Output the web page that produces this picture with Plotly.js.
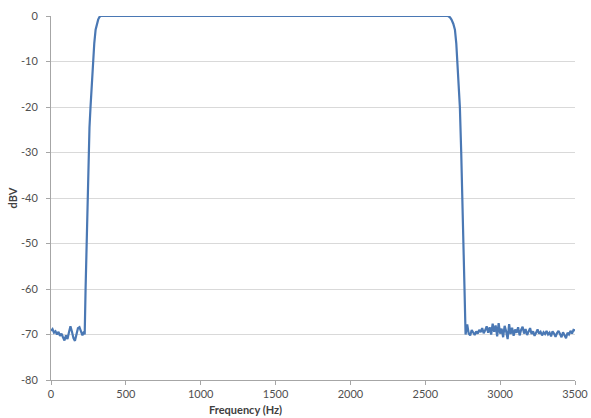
<!DOCTYPE html>
<html>
<head>
<meta charset="utf-8">
<script src="https://cdn.plot.ly/plotly-3.0.1.min.js"></script>
<style>html,body{margin:0;padding:0;background:#fff;}#chart{width:591px;height:418px;}</style>
</head>
<body>
<div id="chart"></div>
<script>
// Frequency (Hz)
const frequencyHz = [
  0, 10, 20, 30, 40, 50, 60, 70, 80, 90, 100, 110, 120, 130, 140, 150, 160, 170, 180, 190, 200, 210, 220, 225,
  231, 238, 244, 251, 257, 264, 272, 280, 289, 298, 307, 315, 323, 331,
  500, 1000, 1500, 2000, 2500, 2653,
  2665, 2675, 2687, 2698, 2707, 2715, 2723, 2731, 2740, 2749, 2755, 2762, 2769,
  2780, 2790, 2800, 2810, 2820, 2830, 2840, 2850, 2860, 2870, 2880, 2890, 2900, 2910, 2920, 2930, 2940, 2950,
  2960, 2970, 2980, 2990, 3000, 3010, 3020, 3030, 3040, 3050, 3060, 3070, 3080, 3090, 3100, 3110, 3120, 3130,
  3140, 3150, 3160, 3170, 3180, 3190, 3200, 3210, 3220, 3230, 3240, 3250, 3260, 3270, 3280, 3290, 3300, 3310,
  3320, 3330, 3340, 3350, 3360, 3370, 3380, 3390, 3400, 3410, 3420, 3430, 3440, 3450, 3460, 3470, 3480, 3490, 3500
];
// Magnitude (dBV)
const magnitudeDbV = [
  -69.2, -68.8, -69.6, -69.3, -70.0, -69.4, -70.3, -69.8, -70.6, -71.3, -70.2, -71.0, -69.5, -68.2, -69.4, -70.8, -71.4, -69.8, -68.6, -68.4, -69.6, -70.2, -69.4, -70.0,
  -60, -50, -40, -30, -24.5, -20, -14.5, -10, -6, -3, -1.6, -0.8, -0.25, 0,
  0, 0, 0, 0, 0, 0,
  -0.3, -0.8, -1.7, -3, -6, -10, -15, -20, -30, -40, -50, -60, -70,
  -67.8, -69.8, -70.2, -69.0, -69.6, -70.1, -69.3, -69.8, -69.0, -69.5, -68.6, -69.7, -69.1, -68.2, -69.6, -68.4, -70.0, -67.6,
  -69.4, -68.0, -70.4, -67.5, -69.8, -68.7, -70.6, -68.1, -69.3, -71.0, -67.7, -69.9, -68.5, -70.3, -68.9, -69.6, -68.4, -70.2,
  -69.0, -68.3, -69.8, -68.8, -70.1, -69.2, -68.6, -69.9, -69.3, -70.3, -69.6, -68.9, -69.8, -69.4, -70.2, -69.5, -69.9, -69.2,
  -70.0, -69.6, -70.4, -69.3, -69.8, -70.5, -69.7, -69.2, -69.9, -70.6, -69.5, -70.1, -70.8, -69.6, -70.0, -69.2, -69.8, -69.0, -69.1
];
const xTickValues = [0, 500, 1000, 1500, 2000, 2500, 3000, 3500];
const yTickValues = [0, -10, -20, -30, -40, -50, -60, -70, -80];
const xAxisTitle = 'Frequency (Hz)';
const yAxisTitle = 'dBV';

const FONT = 'Lato, "Open Sans", "DejaVu Sans", sans-serif';

Plotly.newPlot('chart', [{
  x: frequencyHz,
  y: magnitudeDbV,
  type: 'scatter',
  mode: 'lines',
  line: {color: '#4a78b4', width: 2.2},
  hoverinfo: 'skip'
}], {
  width: 591, height: 418,
  margin: {l: 51, r: 16, t: 16, b: 38},
  paper_bgcolor: '#ffffff',
  plot_bgcolor: '#ffffff',
  showlegend: false,
  font: {family: FONT, size: 11, color: '#505050'},
  xaxis: {
    range: [0, 3500],
    tickvals: xTickValues,
    ticktext: xTickValues.map(String),
    showgrid: false,
    zeroline: false,
    showline: true,
    linecolor: '#a6a6a6',
    linewidth: 1,
    ticks: 'outside',
    ticklen: 4,
    tickcolor: '#a6a6a6',
    tickfont: {family: FONT, size: 11, color: '#505050'}
  },
  yaxis: {
    range: [-80, 0],
    tickvals: yTickValues,
    ticktext: yTickValues.map(String),
    showgrid: true,
    gridcolor: '#d9d9d9',
    gridwidth: 1,
    zeroline: false,
    showline: true,
    linecolor: '#a6a6a6',
    linewidth: 1,
    ticks: 'outside',
    ticklen: 4,
    tickcolor: '#a6a6a6',
    ticklabelstandoff: 6,
    tickfont: {family: FONT, size: 11, color: '#505050'},
    title: {text: yAxisTitle, font: {family: FONT, size: 11, color: '#404040', weight: 'bold'}, standoff: 1}
  },
  annotations: [{
    text: '<b>' + xAxisTitle + '</b>',
    xref: 'paper', yref: 'paper',
    x: (245 - 51) / 524, y: 0,
    yshift: -29,
    xanchor: 'center', yanchor: 'middle',
    showarrow: false,
    font: {family: FONT, size: 11, color: '#404040'}
  }]
}, {staticPlot: true});
</script>
</body>
</html>
